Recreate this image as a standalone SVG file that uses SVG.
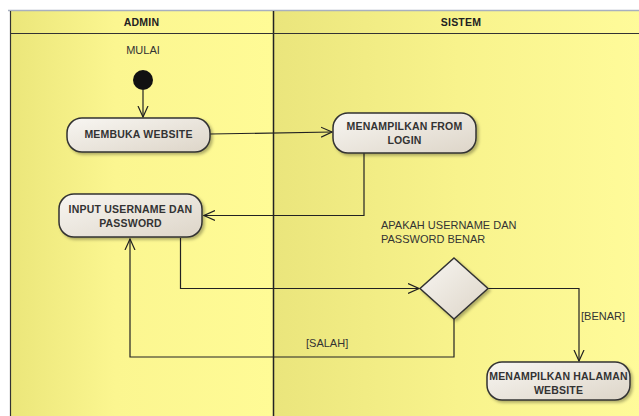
<svg xmlns="http://www.w3.org/2000/svg" width="639" height="416" viewBox="0 0 639 416">
  <style>
    .lane-title { font-family: "Liberation Sans", Arial, sans-serif; font-size: 10.5px; font-weight: bold; fill: #222; text-anchor: middle; letter-spacing: 0.2px; }
    .node-text { font-family: "Liberation Sans", Arial, sans-serif; font-size: 10.5px; font-weight: bold; fill: #333; text-anchor: middle; letter-spacing: 0.2px; }
    .label { font-family: "Liberation Sans", Arial, sans-serif; font-size: 11px; fill: #333; }
    .node { fill: url(#nodeFill); stroke: #333; stroke-width: 1.5; filter: url(#shadow); }
    .flow { fill: none; stroke: #222; stroke-width: 1.2; marker-end: url(#open); }
  </style>
  <defs>
    <linearGradient id="laneA" x1="0" y1="0" x2="1" y2="0">
      <stop offset="0" stop-color="#ebe67a"/>
      <stop offset="0.4" stop-color="#fbf690"/>
      <stop offset="1" stop-color="#fffb96"/>
    </linearGradient>
    <linearGradient id="laneB" x1="0" y1="0" x2="1" y2="0">
      <stop offset="0" stop-color="#eae57c"/>
      <stop offset="0.5" stop-color="#f8f38c"/>
      <stop offset="1" stop-color="#fffb9a"/>
    </linearGradient>
    <linearGradient id="nodeFill" x1="0" y1="0" x2="1" y2="1">
      <stop offset="0" stop-color="#f8f6f2"/>
      <stop offset="1" stop-color="#ddd5c8"/>
    </linearGradient>
    <filter id="shadow" x="-10%" y="-10%" width="130%" height="140%">
      <feDropShadow dx="2" dy="2" stdDeviation="1.5" flood-color="#000" flood-opacity="0.3"/>
    </filter>
    <marker id="open" viewBox="0 0 12 12" refX="11" refY="6" markerWidth="12" markerHeight="12" markerUnits="userSpaceOnUse" orient="auto">
      <path d="M0,1 L11,6 L0,11" fill="none" stroke="#222" stroke-width="1.2"/>
    </marker>
  </defs>

  <rect x="0" y="0" width="639" height="416" fill="#ffffff"/>

  <!-- swimlanes -->
  <g id="lanes">
    <rect x="10" y="11" width="263" height="410" fill="url(#laneA)"/>
    <rect x="273" y="11" width="370" height="410" fill="url(#laneB)"/>
    <line x1="8" y1="10.5" x2="639" y2="10.5" stroke="#a8b0c0" stroke-width="1.5"/>
    <line x1="10.5" y1="11" x2="10.5" y2="416" stroke="#333" stroke-width="1.2"/>
    <line x1="273.5" y1="11" x2="273.5" y2="416" stroke="#222" stroke-width="1.5"/>
    <line x1="10" y1="33.5" x2="639" y2="33.5" stroke="#333" stroke-width="1.2"/>
    <text class="lane-title" x="141.5" y="25.5">ADMIN</text>
    <text class="lane-title" x="461" y="25.5">SISTEM</text>
  </g>

  <!-- connectors -->
  <g id="connectors">
    <path class="flow" d="M143,90 V117"/>
    <path class="flow" d="M210,134 L332,132"/>
    <path class="flow" d="M364,153 V215.5 H204"/>
    <path class="flow" d="M180.5,238 V288.5 H419"/>
    <path class="flow" d="M454,319 V357 H130 V239"/>
    <path class="flow" d="M488,288.5 H579 V361"/>
    <text class="label" x="306" y="347">[SALAH]</text>
    <text class="label" x="581" y="320">[BENAR]</text>
  </g>

  <g id="start">
    <text class="label" x="143" y="54" text-anchor="middle">MULAI</text>
    <circle cx="143" cy="80" r="10" fill="#111"/>
  </g>

  <g id="membuka-website">
    <rect class="node" x="67" y="118" width="143" height="34" rx="15"/>
    <text class="node-text" x="138.5" y="138">MEMBUKA WEBSITE</text>
  </g>

  <g id="menampilkan-login">
    <rect class="node" x="333" y="113" width="143" height="40" rx="15"/>
    <text class="node-text" x="404.5" y="130">MENAMPILKAN FROM</text>
    <text class="node-text" x="404.5" y="144">LOGIN</text>
  </g>

  <g id="input-login">
    <rect class="node" x="59" y="194" width="143" height="43" rx="15"/>
    <text class="node-text" x="130.5" y="213">INPUT USERNAME DAN</text>
    <text class="node-text" x="130.5" y="227">PASSWORD</text>
  </g>

  <g id="cek-login">
    <text class="label" x="381" y="229">APAKAH USERNAME DAN</text>
    <text class="label" x="381" y="243">PASSWORD BENAR</text>
    <path class="node" d="M454,258 L488,288.5 L454,319 L420,288.5 Z"/>
  </g>

  <g id="menampilkan-halaman">
    <rect class="node" x="487" y="362" width="143" height="38" rx="15"/>
    <text class="node-text" x="558.5" y="380">MENAMPILKAN HALAMAN</text>
    <text class="node-text" x="558.5" y="394">WEBSITE</text>
  </g>
</svg>
